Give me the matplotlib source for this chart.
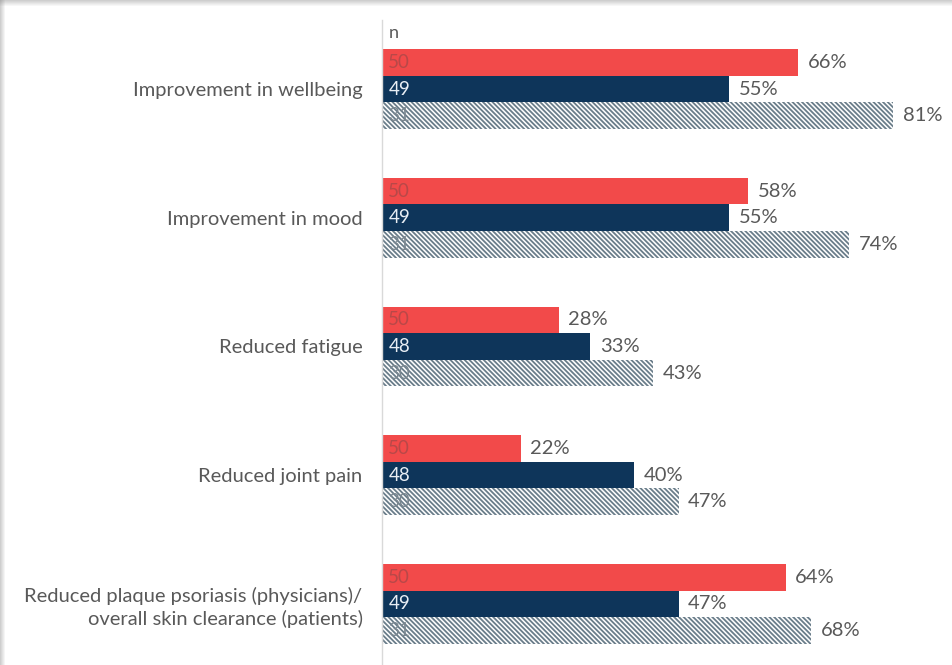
import matplotlib
matplotlib.use("Agg")
import matplotlib.pyplot as plt
from matplotlib.patches import Rectangle
import numpy as np

plt.rcParams['font.family'] = ['Lato', 'DejaVu Sans']
plt.rcParams['hatch.linewidth'] = 1.3

categories = [
    "Improvement in wellbeing",
    "Improvement in mood",
    "Reduced fatigue",
    "Reduced joint pain",
    "Reduced plaque psoriasis (physicians)/\noverall skin clearance (patients)",
]
physicians_pct = [66, 58, 28, 22, 64]
physicians_n = [50, 50, 50, 50, 50]
patients_a_pct = [55, 55, 33, 40, 47]
patients_a_n = [49, 49, 48, 48, 49]
patients_b_pct = [81, 74, 43, 47, 68]
patients_b_n = [31, 31, 30, 30, 31]

RED = "#f24a4a"
NAVY = "#0e355a"
HATCH = "#6a7d8a"
TEXT = "#595959"

fig = plt.figure(figsize=(9.53, 6.65), dpi=100)
fig.patch.set_facecolor("white")
ax = fig.add_axes([382 / 953, 0.0, 1 - 382 / 953, 1 - 20 / 665])

y = np.arange(len(categories))
h = 0.206
offsets = [-h, 0.0, h]

series = [
    (physicians_pct, physicians_n, dict(color=RED), "#b84848"),
    (patients_a_pct, patients_a_n, dict(color=NAVY), "#e8eef4"),
    (patients_b_pct, patients_b_n,
     dict(facecolor="white", edgecolor=HATCH, hatch="\\" * 7, linewidth=0), "#7a8790"),
]

for (vals, ns, style, ncol), off in zip(series, offsets):
    bars = ax.barh(y + off, vals, height=h, **style)
    for b, v, n in zip(bars, vals, ns):
        cy = b.get_y() + b.get_height() / 2
        ax.text(v + 1.5, cy, f"{v}%", va="center", ha="left",
                fontsize=14.5, color=TEXT)
        ax.text(1.0, cy, str(n), va="center", ha="left",
                fontsize=13.5, color=ncol)

ax.set_xlim(0, 571 / 6.31)
ax.set_ylim(len(categories) - 1 + 0.474, -0.536)

ax.set_yticks(y)
ax.set_yticklabels(categories, fontsize=14.5, color=TEXT, linespacing=1.3)
ax.tick_params(axis="y", length=0, pad=14)
ax.set_xticks([])
for s in ["top", "right", "bottom"]:
    ax.spines[s].set_visible(False)
ax.spines["left"].set_color("#d9d9d9")
ax.spines["left"].set_linewidth(1.0)

ax.text(1.0, -0.436, "n", va="center", ha="left", fontsize=13, color=TEXT)

# soft frame shadow along the top and left edges
W, H = 953, 665
for i in range(6):
    a = 0.38 * (1 - i / 6)
    fig.add_artist(Rectangle((0, 1 - (i + 1) / H), 1, 1 / H,
                             transform=fig.transFigure, color="#808080",
                             alpha=a, lw=0))
for i in range(5):
    a = 0.38 * (1 - i / 5)
    fig.add_artist(Rectangle((i / W, 0), 1 / W, 1,
                             transform=fig.transFigure, color="#808080",
                             alpha=a, lw=0))

fig.savefig("out.png", dpi=100, facecolor="white")
